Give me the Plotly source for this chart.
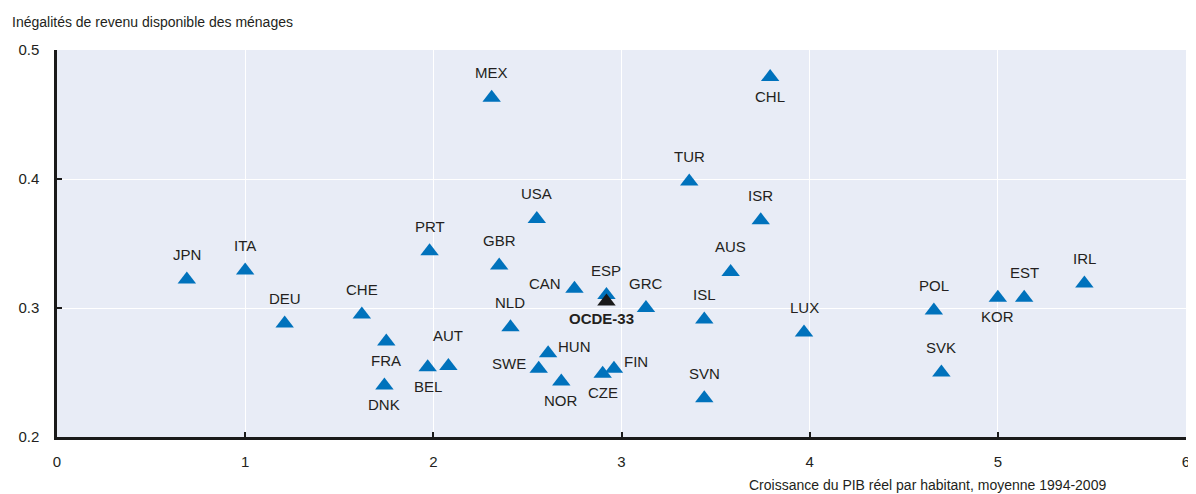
import plotly.graph_objects as go

# Data
countries = ["JPN", "ITA", "DEU", "CHE", "FRA", "DNK", "BEL", "AUT", "PRT", "GBR",
             "MEX", "USA", "NLD", "CAN", "SWE", "HUN", "NOR", "ESP", "CZE", "FIN",
             "GRC", "TUR", "ISL", "SVN", "AUS", "ISR", "CHL", "LUX", "POL", "SVK",
             "KOR", "EST", "IRL"]
gdp_growth = [0.69, 1.00, 1.21, 1.62, 1.75, 1.74, 1.97, 2.08, 1.98, 2.35,
              2.31, 2.55, 2.41, 2.75, 2.56, 2.61, 2.68, 2.92, 2.90, 2.96,
              3.13, 3.36, 3.44, 3.44, 3.58, 3.74, 3.79, 3.97, 4.66, 4.70,
              5.00, 5.14, 5.46]
gini = [0.322, 0.329, 0.288, 0.295, 0.274, 0.240, 0.254, 0.255, 0.344, 0.333,
        0.463, 0.369, 0.285, 0.315, 0.253, 0.265, 0.243, 0.310, 0.249, 0.253,
        0.300, 0.398, 0.291, 0.230, 0.328, 0.368, 0.479, 0.281, 0.298, 0.250,
        0.308, 0.308, 0.319]

oecd_label = ["OCDE-33"]
oecd_growth = [2.92]
oecd_gini = [0.305]

x_ticks = [0, 1, 2, 3, 4, 5, 6]
y_ticks = [0.2, 0.3, 0.4, 0.5]

y_title = "Inégalités de revenu disponible des ménages"
x_title = "Croissance du PIB réel par habitant, moyenne 1994-2009"

# Label placement (style only)
placement = {
    "CHL": "bottom", "FRA": "bottom", "DNK": "bottom", "BEL": "bottom",
    "CZE": "bottom", "NOR": "bottom", "KOR": "bottom",
    "CAN": "left", "SWE": "left", "HUN": "right", "FIN": "right",
    "AUT": "top_high",
}
place_style = {
    "top": dict(xanchor="center", yanchor="middle", xshift=0, yshift=25),
    "top_high": dict(xanchor="center", yanchor="middle", xshift=0, yshift=31),
    "bottom": dict(xanchor="center", yanchor="middle", xshift=0, yshift=-19),
    "left": dict(xanchor="right", yanchor="middle", xshift=-11, yshift=5),
    "right": dict(xanchor="left", yanchor="middle", xshift=8, yshift=7),
}

BLUE = "#0072BC"
TXT = "#231F20"
FONT = "Liberation Sans, Arial, sans-serif"

fig = go.Figure()
fig.add_trace(go.Scatter(
    x=gdp_growth, y=gini, mode="markers",
    marker=dict(symbol="triangle-up", size=16, color=BLUE),
    hoverinfo="skip", showlegend=False,
))
fig.add_trace(go.Scatter(
    x=oecd_growth, y=oecd_gini, mode="markers",
    marker=dict(symbol="triangle-up", size=16, color="#1A1A1A"),
    hoverinfo="skip", showlegend=False,
))

annotations = []
for c, xv, yv in zip(countries, gdp_growth, gini):
    st = place_style[placement.get(c, "top")]
    annotations.append(dict(x=xv, y=yv, xref="x", yref="y", text=c, showarrow=False,
                            font=dict(family=FONT, size=15, color=TXT), **st))
for c, xv, yv in zip(oecd_label, oecd_growth, oecd_gini):
    annotations.append(dict(x=xv, y=yv, xref="x", yref="y", text="<b>" + c + "</b>",
                            showarrow=False, font=dict(family=FONT, size=15, color=TXT),
                            xanchor="center", yanchor="middle", xshift=-5, yshift=-17))

# axis titles
annotations.append(dict(x=-0.0415, y=1.072, xref="paper", yref="paper", text=y_title,
                        showarrow=False, xanchor="left", yanchor="middle",
                        font=dict(family=FONT, size=14, color=TXT)))
annotations.append(dict(x=0.931, y=-0.124, xref="paper", yref="paper", text=x_title,
                        showarrow=False, xanchor="right", yanchor="middle",
                        font=dict(family=FONT, size=14, color=TXT)))

# page has an 8px body margin, so the figure is shrunk by 8px and top/left margins reduced
fig.update_layout(
    width=1188, height=486,
    margin=dict(l=49, r=6, t=42, b=57),
    paper_bgcolor="white", plot_bgcolor="#E8ECF6",
    font=dict(family=FONT, size=15, color=TXT),
    showlegend=False,
    annotations=annotations,
    xaxis=dict(range=[0, 6], tickvals=x_ticks, ticktext=[str(v) for v in x_ticks],
               showgrid=True, gridcolor="white", gridwidth=1,
               showline=True, linecolor="#1A1A1A", linewidth=2.5,
               ticks="inside", ticklen=5, tickwidth=1.5, tickcolor="#1A1A1A",
               ticklabelstandoff=9, ticklabeloverflow="allow", zeroline=False,
               tickfont=dict(family=FONT, size=15, color=TXT)),
    yaxis=dict(range=[0.2, 0.5], tickvals=y_ticks, ticktext=[f"{v:.1f}" for v in y_ticks],
               showgrid=True, gridcolor="white", gridwidth=1,
               showline=True, linecolor="#1A1A1A", linewidth=2.5,
               ticks="inside", ticklen=5, tickwidth=1.5, tickcolor="#1A1A1A",
               ticklabelstandoff=12, zeroline=False,
               tickfont=dict(family=FONT, size=15, color=TXT)),
)

fig.write_html("out.html")
